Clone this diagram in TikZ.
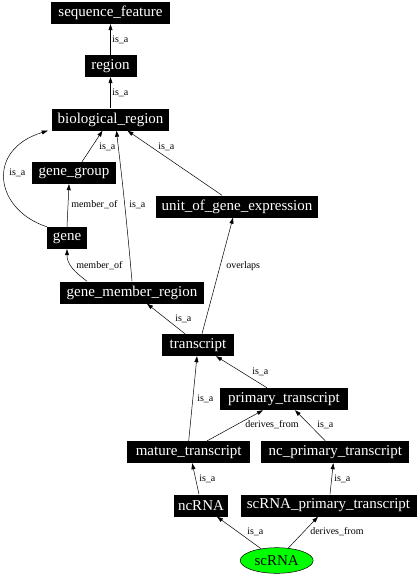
\documentclass[tikz,border=0pt]{standalone}
\usepackage{fontspec}
\setmainfont{Liberation Serif}
\usetikzlibrary{arrows.meta,shapes.geometric}
\begin{document}
\begin{tikzpicture}[x=1pt,y=-1pt,
 box/.style={fill=black,text=white,inner sep=0pt,minimum height=22pt,font=\fontsize{15}{15}\selectfont},
 ell/.style={ellipse,draw=black,line width=0.5pt,fill=green,inner sep=0pt,minimum width=73pt,minimum height=25.6pt,font=\fontsize{15}{15}\selectfont},
 edge/.style={draw=black,line width=0.5pt,-{Triangle[length=6pt,width=4pt]}},
 lbl/.style={anchor=west,inner sep=0pt,font=\fontsize{10}{10}\selectfont}]
\useasboundingbox (0,0) rectangle (419,576);
% nodes
\node[box,minimum width=119pt] (seq) at (110.5,13) {sequence\_feature};
\node[box,minimum width=52pt] (region) at (110.5,66) {region};
\node[box,minimum width=117pt] (bio) at (110.5,119.5) {biological\_region};
\node[box,minimum width=84pt] (gg) at (74,173) {gene\_group};
\node[box,minimum width=162pt] (unit) at (237,206.5) {unit\_of\_gene\_expression};
\node[box,minimum width=40pt] (gene) at (67,238) {gene};
\node[box,minimum width=144pt] (gmr) at (132,292.5) {gene\_member\_region};
\node[box,minimum width=72pt] (tr) at (198,345) {transcript};
\node[box,minimum width=128pt] (pt) at (284,399) {primary\_transcript};
\node[box,minimum width=123pt] (mt) at (188.7,452) {mature\_transcript};
\node[box,minimum width=148pt] (nc) at (335.3,452) {nc\_primary\_transcript};
\node[box,minimum width=54pt] (ncrna) at (201,505.5) {ncRNA};
\node[box,minimum width=176pt] (scpt) at (328.5,505.5) {scRNA\_primary\_transcript};
\node[ell] (sc) at (276.7,560.5) {scRNA};
% edges
\draw[edge] (region) -- (seq) node[lbl] at (112,39.5) {is\_a};
\draw[edge] (bio) -- (region) node[lbl] at (112,93) {is\_a};
\draw[edge] ([xshift=8pt]gg.north) -- ([xshift=-8pt]bio.south) node[lbl] at (99,147) {is\_a};
\draw[edge] ([xshift=-20pt]gene.north) .. controls (-5,210) and (-15,150) .. ([xshift=-4pt]bio.south west) node[lbl] at (9,173) {is\_a};
\draw[edge] (gene.north) -- ([xshift=-5pt]gg.south) node[lbl] at (71,205) {member\_of};
\draw[edge] ([xshift=-45pt]gmr.north) .. controls (75,272) and (67,265) .. (gene.south) node[lbl] at (76,266) {member\_of};
\draw[edge] (gmr.north) .. controls (125,200) and (118,145) .. ([xshift=6pt]bio.south) node[lbl] at (129,205) {is\_a};
\draw[edge] ([xshift=-15pt]unit.north) -- ([xshift=17pt]bio.south) node[lbl] at (158,147) {is\_a};
\draw[edge] ([xshift=-13pt]tr.north) -- ([xshift=15pt]gmr.south) node[lbl] at (175,318.5) {is\_a};
\draw[edge] ([xshift=4pt]tr.north) -- ([xshift=-4pt]unit.south) node[lbl] at (226,266) {overlaps};
\draw[edge] ([xshift=-17pt]pt.north) -- ([xshift=18pt]tr.south) node[lbl] at (252,372) {is\_a};
\draw[edge] (mt.north) -- ([xshift=-1pt]tr.south) node[lbl] at (197,399) {is\_a};
\draw[edge] ([xshift=18.5pt]mt.north) -- ([xshift=-21pt]pt.south) node[lbl] at (245,425) {derives\_from};
\draw[edge] ([xshift=-10pt]nc.north) -- ([xshift=11pt]pt.south) node[lbl] at (317,425) {is\_a};
\draw[edge] ([xshift=-2pt]ncrna.north) -- ([xshift=3.5pt]mt.south) node[lbl] at (199,479) {is\_a};
\draw[edge] ([xshift=1.5pt]scpt.north) -- ([xshift=-2pt]nc.south) node[lbl] at (334,479) {is\_a};
\draw[edge] (sc.143) -- ([xshift=16pt]ncrna.south) node[lbl] at (247,532) {is\_a};
\draw[edge] (sc.47) -- ([xshift=-10.5pt]scpt.south) node[lbl] at (310,532) {derives\_from};
\end{tikzpicture}
\end{document}
